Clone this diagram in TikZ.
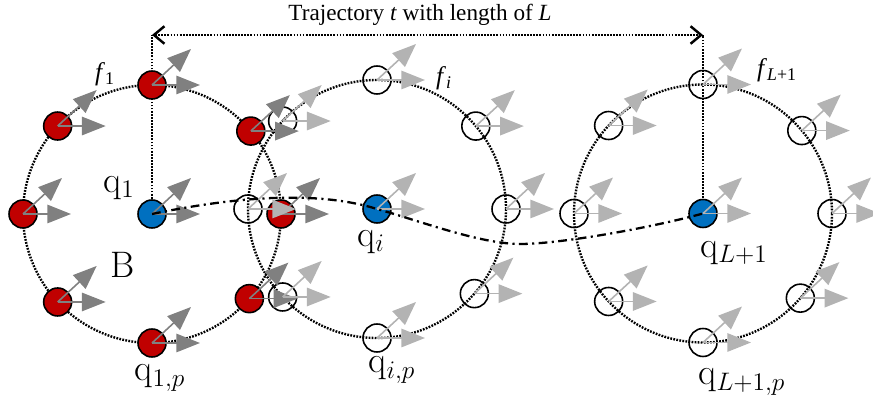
\documentclass[tikz,border=0pt]{standalone}
\usepackage{fontspec}
\newfontfamily\timesfont{Liberation Serif}
\usetikzlibrary{arrows.meta,calc}
\definecolor{PtRed}{HTML}{C00000}
\definecolor{PtBlue}{HTML}{0070C0}
\definecolor{ArrDark}{HTML}{808080}
\definecolor{ArrLight}{HTML}{B3B3B3}

\tikzset{
  ring/.style={line width=1.35pt,dash pattern=on 1pt off 0.75pt},
  guide/.style={line width=1.35pt,dash pattern=on 1pt off 0.75pt},
  pt/.style={circle,draw=black,line width=0.9pt,minimum size=0.56cm,inner sep=0pt},
  redpt/.style={pt,fill=PtRed},
  bluept/.style={pt,fill=PtBlue},
  openpt/.style={pt},
  vec/.style={line width=0.9pt,-{Triangle[length=13.5pt,width=10.5pt]}},
  traj/.style={line width=1.3pt,dash pattern=on 5pt off 2.5pt on 1.2pt off 2.5pt},
  qlabel/.style={font=\fontsize{21}{23}\selectfont},
  flabel/.style={font=\timesfont\fontsize{14.5}{16}\selectfont},
}

\begin{document}
\begin{tikzpicture}[x=0.02cm,y=0.02cm]
  \useasboundingbox (0,0) rectangle (873,399);

  % circle centres
  \coordinate (c1) at (152,185);
  \coordinate (ci) at (377,190);
  \coordinate (cL) at (703,185.5);

  % dotted rings
  \draw[ring] (c1) circle (129);
  \draw[ring] (ci) circle (129);
  \draw[ring] (cL) circle (129);

  % length of the trajectory
  \coordinate (t1) at (152,364);
  \coordinate (tL) at (703,364);
  \draw[guide] (c1) -- (t1);
  \draw[guide] (cL) -- (tL);
  \draw[guide,{Straight Barb[length=6pt,width=10pt,line width=1.4pt]}-{Straight Barb[length=6pt,width=10pt,line width=1.4pt]}] (t1) -- (tL);
  \node[flabel,font=\timesfont\fontsize{13.2}{15}\selectfont] (title) at (420,384) {Trajectory \textit{t} with length of \textit{L}};

  % points on the rings
  \foreach \a [count=\k] in {0,40,90,137,180,223,270,319} {
    \node[redpt] (p1-\k) at ($(c1)+(\a:129)$) {};
    \node[openpt] (pi-\k) at ($(ci)+(\a:129)$) {};
    \node[openpt] (pL-\k) at ($(cL)+(\a:129)$) {};
  }
  \node[bluept] (q1) at (c1) {};
  \node[bluept] (qi) at (ci) {};
  \node[bluept] (qL) at (cL) {};

  % directions
  \foreach \n in {q1,p1-1,p1-2,p1-3,p1-4,p1-5,p1-6,p1-7,p1-8} {
    \draw[vec,ArrDark] (\n.center) -- ++(48,0);
    \draw[vec,ArrDark] (\n.center) -- ++(39,36);
  }
  \foreach \n in {qi,qL,pi-1,pi-2,pi-3,pi-4,pi-5,pi-6,pi-7,pi-8,pL-1,pL-2,pL-3,pL-4,pL-5,pL-6,pL-7,pL-8} {
    \draw[vec,ArrLight] (\n.center) -- ++(48,0);
    \draw[vec,ArrLight] (\n.center) -- ++(39,36);
  }

  % trajectory
  \coordinate (m) at (520,155);
  \draw[traj] (q1.center) .. controls (220,199) and (310,211) .. (qi.center)
    .. controls (417,179) and (480,155) .. (m)
    .. controls (560,155) and (650,171) .. (qL.center);

  % labels
  \node[flabel] (f1) at (105,325) {\textit{f}\textsubscript{1}};
  \node[flabel] (fi) at (444,321) {\textit{f}\textsubscript{\textit{i}}};
  \node[flabel] (fL) at (777,329) {\textit{f}\textsubscript{\textit{L}+1}};
  \node[qlabel] (lq1) at (119,211) {$\mathrm{q}_1$};
  \node[qlabel] (lqi) at (371,157) {$\mathrm{q}_i$};
  \node[qlabel] (lqL) at (734,146) {$\mathrm{q}_{L+1}$};
  \node[qlabel] (lq1p) at (160,21) {$\mathrm{q}_{1,p}$};
  \node[qlabel] (lqip) at (392,29) {$\mathrm{q}_{i,p}$};
  \node[qlabel] (lqLp) at (742,17) {$\mathrm{q}_{L+1,p}$};
  \node[qlabel] (B) at (123,134) {B};
\end{tikzpicture}
\end{document}
